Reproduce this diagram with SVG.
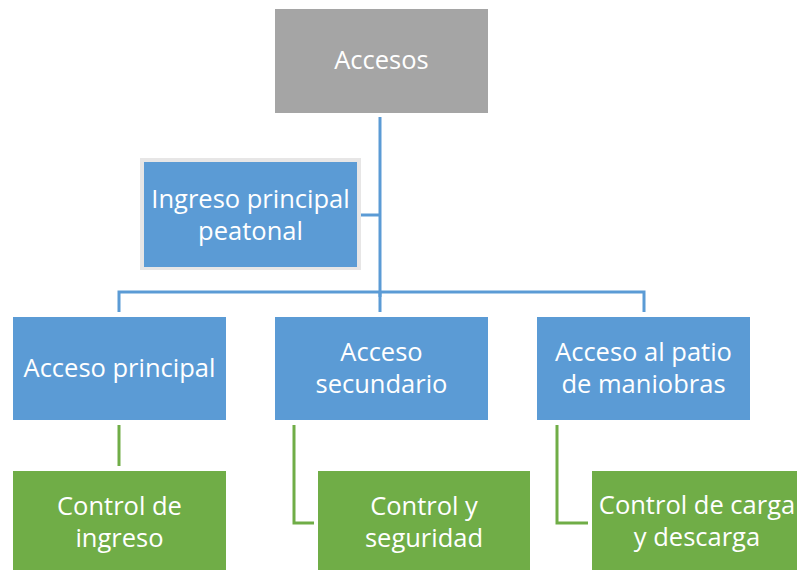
<svg xmlns="http://www.w3.org/2000/svg" width="797" height="570" viewBox="0 0 797 570">
<style>
.t{font-family:"Open Sans","Noto Sans","Liberation Sans",sans-serif;font-size:25.5px;fill:#ffffff;text-anchor:middle}
.blue{fill:#5b9bd5}
.green{fill:#70ad47}
.gray{fill:#a5a5a5}
.cb{fill:none;stroke:#5b9bd5;stroke-width:3}
.cg{fill:none;stroke:#70ad47;stroke-width:3}
</style>
<rect width="797" height="570" fill="#ffffff"/>
<g id="connectors">
<path class="cb" d="M380,117 V297"/>
<path class="cb" d="M357,215 H380"/>
<path class="cb" d="M119,312 V292 H644 V312"/>
<path class="cb" d="M380,292 V312"/>
<path class="cg" d="M119,425 V466"/>
<path class="cg" d="M294,425 V523 H314"/>
<path class="cg" d="M557,425 V523 H588"/>
</g>
<g id="accesos">
<rect class="gray" x="275" y="9" width="213" height="104"/>
<text class="t" x="381.500" y="69">Accesos</text>
</g>
<g id="ingreso-peatonal">
<rect x="140" y="158" width="221" height="112" fill="#e7e6e6"/>
<rect class="blue" x="144" y="162" width="213" height="105"/>
<text class="t" x="250.500" y="208">Ingreso principal</text>
<text class="t" x="250.500" y="240">peatonal</text>
</g>
<g id="acceso-principal">
<rect class="blue" x="13" y="317" width="213" height="103"/>
<text class="t" x="119.500" y="377">Acceso principal</text>
</g>
<g id="acceso-secundario">
<rect class="blue" x="275" y="317" width="213" height="103"/>
<text class="t" x="381.500" y="361">Acceso</text>
<text class="t" x="381.500" y="393">secundario</text>
</g>
<g id="acceso-patio">
<rect class="blue" x="537" y="317" width="213" height="103"/>
<text class="t" x="643.500" y="361">Acceso al patio</text>
<text class="t" x="643.500" y="393">de maniobras</text>
</g>
<g id="control-ingreso">
<rect class="green" x="13" y="471" width="213" height="105"/>
<text class="t" x="119.500" y="515">Control de</text>
<text class="t" x="119.500" y="547">ingreso</text>
</g>
<g id="control-seguridad">
<rect class="green" x="318" y="471" width="212" height="105"/>
<text class="t" x="424" y="515">Control y</text>
<text class="t" x="424" y="547">seguridad</text>
</g>
<g id="control-carga">
<rect class="green" x="592" y="471" width="212" height="105"/>
<text class="t" x="697" y="514">Control de carga</text>
<text class="t" x="697" y="546">y descarga</text>
</g>
</svg>
